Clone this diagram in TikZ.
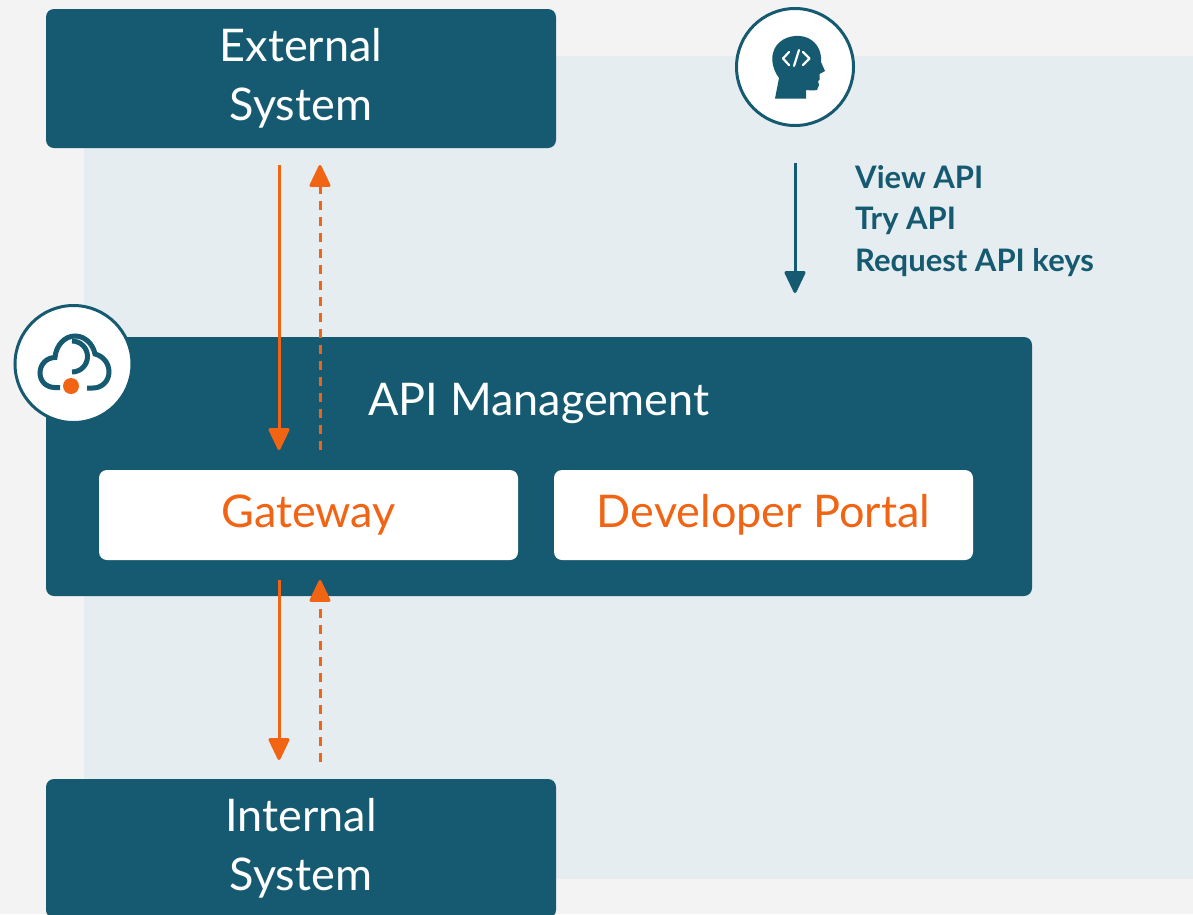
\documentclass[tikz,border=0pt]{standalone}
\usepackage{fontspec}
\setmainfont{Lato}
\usetikzlibrary{arrows.meta}
\definecolor{teal}{HTML}{155A70}
\definecolor{orng}{HTML}{F06414}
\definecolor{pagebg}{HTML}{F3F3F3}
\definecolor{panel}{HTML}{E6EDF1}
\tikzset{
  darkbox/.style={fill=teal,rounded corners=8pt,minimum width=510pt,minimum height=139pt,align=center,text=white,font=\fontsize{45}{59}\selectfont,inner sep=0pt},
  whitebox/.style={fill=white,rounded corners=8pt,minimum width=419pt,minimum height=90pt,text=orng,font=\fontsize{45}{54}\selectfont,inner sep=0pt},
  flow/.style={draw=orng,line width=3pt,-{Triangle[length=24pt,width=22pt,round]}},
  flowback/.style={flow,dash pattern=on 9pt off 7pt,-{Triangle[length=24pt,width=22pt,round]}},
  badge/.style={circle,draw=teal,line width=3pt,fill=white,minimum size=117pt,inner sep=0pt},
  x=1pt,y=-1pt
}
\begin{document}
\begin{tikzpicture}
\path[use as bounding box] (0,0) rectangle (1193,914);
\clip (0,0) rectangle (1193,914);
\fill[pagebg] (0,0) rectangle (1193,914);
\fill[panel] (84,56) rectangle (1193,879);
\node[darkbox] (ext) at (301,78.5) {External\\System};
\node[darkbox] (int) at (301,848.5) {Internal\\System};
\node[fill=teal,rounded corners=8pt,minimum width=986pt,minimum height=259pt,inner sep=0pt] (apim) at (539,466.5) {};
\node[text=white,font=\fontsize{45}{54}\selectfont,anchor=base] (apimlabel) at (539,415) {API Management};
\node[whitebox] (gw) at (308.5,515) {Gateway};
\node[whitebox] (dp) at (763.5,515) {Developer Portal};
% connector ends
\coordinate (a1) at (279,165); \coordinate (a2) at (279,450);
\coordinate (b1) at (320,450); \coordinate (b2) at (320,165);
\coordinate (c1) at (279,580); \coordinate (c2) at (279,760);
\coordinate (d1) at (320,762); \coordinate (d2) at (320,580);
\coordinate (e1) at (795,163); \coordinate (e2) at (795,293);
\draw[flow] (a1) -- (a2);
\draw[flowback] (b1) -- (b2);
\draw[flow] (c1) -- (c2);
\draw[flowback] (d1) -- (d2);
\draw[flow,draw=teal,fill=teal] (e1) -- (e2);
\node[text=teal,font=\fontsize{31}{41.5}\selectfont\bfseries,align=left,anchor=north west,inner sep=0pt] (actions) at (855,165) {View API\\Try API\\Request API keys};
% developer badge
\node[badge] (dev) at (795,67) {};
\fill[teal] (775,98.5) -- (779,78) .. controls (773,70) and (771,60) .. (773,53) .. controls (776,41) and (788,35) .. (800,36) .. controls (812,37) and (820,46) .. (821,57) -- (821,62) -- (825,71) -- (819.5,74) -- (819.5,80) -- (818,81) -- (819,85) -- (817,90) .. controls (812,91) and (809,90) .. (806,90) -- (806,98.5) -- cycle;
\draw[white,line width=2.2pt,line cap=round,line join=round] (789,52) -- (783,58.5) -- (789,65) (803,52) -- (809.5,58.5) -- (803,65) (799,50) -- (794,66);
% cloud badge
\node[badge] (cloud) at (73.5,364) {};
\draw[teal,line width=5pt,line cap=butt] (60,387.5) -- (55,387.5) .. controls (46,387.5) and (40,381) .. (40,373) .. controls (40,364) and (47,357.5) .. (55,357.5) .. controls (56,345) and (65,336) .. (75,336) .. controls (85,336) and (93,344) .. (95,354) .. controls (103,356) and (109,363) .. (109,372) .. controls (109,381) and (102,388) .. (93,388) -- (87,388);
\draw[teal,line width=5pt] (72,372) arc[start angle=90,end angle=-90,radius=15.5];
\fill[orng] (71,386) circle[radius=8];
\end{tikzpicture}
\end{document}
